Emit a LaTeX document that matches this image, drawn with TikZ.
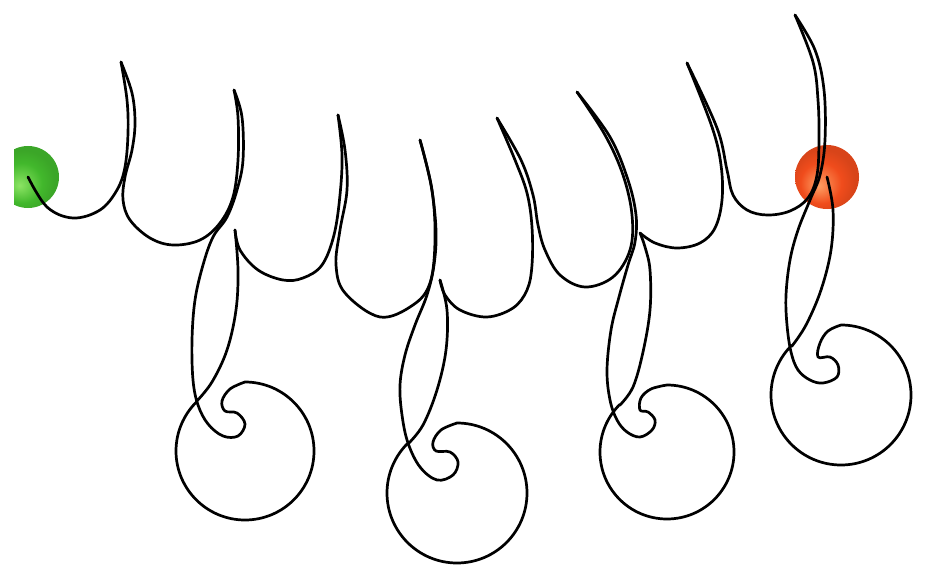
\documentclass[tikz,border=0pt]{standalone}
\usepackage{tikz}
\definecolor{leafgreen}{RGB}{66,184,44}
\definecolor{leaflight}{RGB}{140,228,100}
\definecolor{berryred}{RGB}{240,76,28}
\definecolor{berrylight}{RGB}{255,160,100}
\pgfdeclareradialshading{startball}{\pgfpoint{-7bp}{-7bp}}{color(0bp)=(leaflight); color(16bp)=(leafgreen); color(25bp)=(leafgreen!90!black); color(50bp)=(leafgreen!90!black)}
\pgfdeclareradialshading{goalball}{\pgfpoint{-7bp}{-7bp}}{color(0bp)=(berrylight); color(16bp)=(berryred); color(25bp)=(berryred!90!black); color(50bp)=(berryred!90!black)}

\begin{document}
\begin{tikzpicture}[x=1pt, y=-1pt, wire/.style={line width=2.7pt, line join=round, line cap=round, smooth, tension=0.6}]
        \useasboundingbox (0,0) rectangle (928,580);
        % start and goal
        \begin{scope}
            \clip (14,0) rectangle (928,580);
            \node[circle, shade, shading=startball, minimum size=62pt, inner sep=0pt] (start) at (28,177) {};
        \end{scope}
        \node[circle, shade, shading=goalball, minimum size=64pt, inner sep=0pt] (goal) at (827,177) {};
        % hooks, one piece from cusp to cusp
        \draw[wire] plot coordinates {(start.center) (47,207) (73,218) (100,210) (117,190) (125,167) (128,133) (127,100) (121,62)};
        \draw[wire] plot coordinates {(121,62) (132,93) (135,123) (132,150) (125,177) (123,200) (130,220) (150,238) (173,245) (200,240) (220,223) (233,197) (238,160) (238,117) (234,90)};
        \draw[wire] plot coordinates {(235,230) (240,250) (258,270) (283,280) (303,278) (322,265) (334,235) (340,195) (342,155) (338,115)};
        \draw[wire] plot coordinates {(338,115) (345,150) (347,190) (340,230) (336,265) (345,293) (380,317) (413,305) (430,283) (435,240) (432,190) (420,140)};
        \draw[wire] plot coordinates {(440,280) (445,295) (460,310) (487,317) (513,308) (527,290) (532,265) (532,227) (527,193) (515,160) (497,118)};
        \draw[wire] plot coordinates {(497,118) (521,160) (533,195) (538,225) (545,250) (560,275) (585,287) (613,277) (630,250) (632,215) (623,175) (605,135) (577,92)};
        \draw[wire] plot coordinates {(640,233) (655,243) (677,248) (700,243) (715,228) (722,200) (721,165) (712,127) (687,63)};
        \draw[wire] plot coordinates {(687,63) (717,128) (727,170) (733,195) (747,210) (767,215) (790,211) (808,198) (817,175) (819,140) (818,100) (813,62) (795,15)};
        % curls hanging below
        \draw[wire] plot coordinates {(234,90) (242,117) (243,160) (237,190) (227,217) (213,237) (203,265) (195,300) (192,340) (193,380) (198,405) (208,424) (223,436) (238,436) (245,424) (237,413) (225,411) (222,401) (230,389) (245,382)}
            arc[start angle=270, end angle=585, radius=69]
            -- plot coordinates {(196,402) (212,382) (227,350) (236,310) (238,270) (235,230)};
        \draw[wire] plot coordinates {(420,140) (431,185) (436,230) (434,265) (427,295) (415,325) (405,355) (400,385) (402,415) (408,443) (420,467) (437,480) (453,475) (458,462) (450,452) (436,451) (433,442) (441,430) (457,423)}
            arc[start angle=270, end angle=585, radius=70]
            -- plot coordinates {(408,444) (423,425) (437,390) (446,350) (447,310) (440,280)};
        \draw[wire] plot coordinates {(577,92) (610,137) (628,180) (636,215) (635,242) (628,265) (619,297) (611,330) (607,370) (610,400) (617,420) (627,432) (640,437) (652,430) (655,420) (648,412) (640,410) (641,398) (651,389) (667,385)}
            arc[start angle=270, end angle=585, radius=67]
            -- plot coordinates {(620,405) (633,387) (643,352) (650,310) (650,270) (645,247) (640,233)};
        \draw[wire] plot coordinates {(795,15) (815,50) (824,90) (825,140) (820,175) (810,200) (798,230) (790,260) (786,295) (787,325) (791,352) (798,370) (810,380) (823,383) (837,377) (838,365) (830,357) (818,357) (820,343) (828,331) (841,325)}
            arc[start angle=270, end angle=585, radius=70]
            -- plot coordinates {(792,346) (806,325) (821,290) (831,250) (833,210) (goal.center)};
    \end{tikzpicture}
\end{document}
